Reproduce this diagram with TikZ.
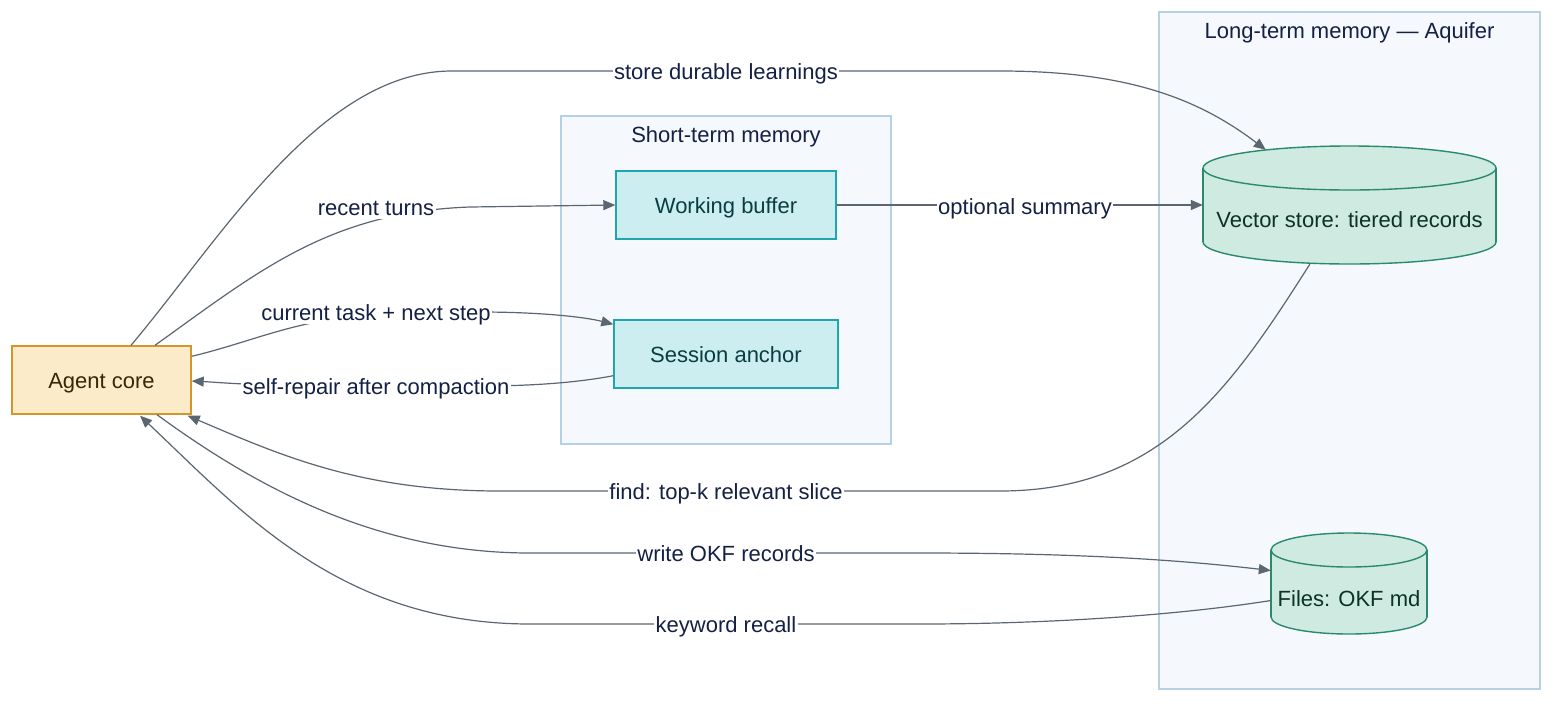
\documentclass[tikz,border=0pt]{standalone}
\usepackage{fontspec}
\setmainfont{Liberation Sans}
\usetikzlibrary{arrows.meta,calc}
\definecolor{edgecol}{HTML}{5B6670}
\definecolor{lbltext}{HTML}{142044}
\definecolor{clfill}{HTML}{F5F9FD}
\definecolor{cldraw}{HTML}{B6D0E6}
\definecolor{tealfill}{HTML}{CDEEF1}
\definecolor{tealdraw}{HTML}{1FA5AE}
\definecolor{tealtext}{HTML}{0A3D40}
\definecolor{agfill}{HTML}{FCEBC8}
\definecolor{agdraw}{HTML}{D4962A}
\definecolor{agtext}{HTML}{3A2600}
\definecolor{cyfill}{HTML}{CFEAE0}
\definecolor{cydraw}{HTML}{2A8A6A}
\definecolor{cytext}{HTML}{0B3325}
\tikzset{
  txt/.style={font=\fontsize{22}{26}\selectfont, text height=19pt, text depth=2pt},
  cluster/.style={draw=cldraw, fill=clfill, line width=1.2pt},
  cltitle/.style={txt, text=lbltext, inner sep=0pt},
  tealbox/.style={draw=tealdraw, fill=tealfill, line width=1.4pt, txt, text=tealtext, inner sep=0pt},
  agentbox/.style={draw=agdraw, fill=agfill, line width=1.4pt, txt, text=agtext, inner sep=0pt},
  cylarea/.style={inner sep=0pt},
  cylline/.style={draw=cydraw, fill=cyfill, line width=1.4pt},
  cyltext/.style={txt, text=cytext, inner sep=0pt},
  edge/.style={draw=edgecol, line width=1.2pt, -{Triangle[length=12pt,width=10pt]}},
  lbl/.style={txt, text=lbltext, fill=white, inner sep=1.5pt}
}
\begin{document}
\begin{tikzpicture}[x=1pt,y=-1pt]
\useasboundingbox[fill=white] (0,0) rectangle (1568,710);
% clusters
\path[cluster] (561,116) rectangle (891,444);
\node[cltitle] (stt) at (726,134) {Short-term memory};
\path[cluster] (1159,12) rectangle (1540,689);
\node[cltitle] (ltt) at (1349.5,30) {Long-term memory — Aquifer};
% nodes
\node[agentbox, minimum width=179pt, minimum height=68pt] (ac) at (101.5,380) {Agent core};
\node[tealbox, minimum width=220pt, minimum height=68pt] (wb) at (726,205) {Working buffer};
\node[tealbox, minimum width=224pt, minimum height=68pt] (sa) at (726,354) {Session anchor};
% vector store cylinder
\path[cylline] (1349.5,242) ellipse [x radius=146.5, y radius=22];
\fill[cyfill] (1203,168) rectangle (1496,242);
\draw[draw=cydraw, line width=1.4pt] (1203,168) -- (1203,242) (1496,168) -- (1496,242);
\path[cylline] (1349.5,168) ellipse [x radius=146.5, y radius=22];
\node[cylarea, minimum width=293pt, minimum height=118pt] (vs) at (1349.5,205) {};
\node[cyltext] (vst) at (1349.5,219) {Vector store: tiered records};
% files cylinder
\path[cylline] (1349,617) ellipse [x radius=78, y radius=17];
\fill[cyfill] (1271,550) rectangle (1427,617);
\draw[draw=cydraw, line width=1.4pt] (1271,550) -- (1271,617) (1427,550) -- (1427,617);
\path[cylline] (1349,550) ellipse [x radius=78, y radius=17];
\node[cylarea, minimum width=156pt, minimum height=101pt] (fm) at (1349,583.5) {};
\node[cyltext] (fmt) at (1349,598) {Files: OKF md};
% edges
\draw[edge] ($(ac.north)+(29.5,0)$) .. controls (220,240) and (320,71) .. (452,71) -- (1000,71) .. controls (1130,71) and (1200,100) .. ($(vs.north west)+(63,4)$);
\draw[edge] ($(ac.north)+(53.5,0)$) .. controls (260,270) and (330,212) .. (470,207) -- (wb.west);
\draw[edge] ($(ac.north east)+(0,11)$) .. controls (260,340) and (300,316) .. (400,313) -- (480,312) .. controls (540,312) and (585,317) .. ($(sa.north west)+(0,5)$);
\draw[edge] ($(sa.south west)+(0,-13)$) .. controls (570,384) and (520,386) .. (480,386) -- (270,385) .. controls (235,384) and (212,382) .. ($(ac.east)+(0,1)$);
\draw[edge] (wb.east) -- (vs.west);
\draw[edge] ($(vs.south west)+(107,0)$) .. controls (1230,390) and (1160,491) .. (1000,491) -- (500,491) .. controls (360,491) and (280,455) .. ($(ac.south east)+(-4,1)$);
\draw[edge] ($(ac.south)+(55.5,0)$) .. controls (260,490) and (380,553) .. (530,553) -- (920,553) .. controls (1080,553) and (1180,560) .. ($(fm.west)+(0,-13)$);
\draw[edge] ($(fm.west)+(0,17)$) .. controls (1180,615) and (1050,624) .. (920,624) -- (530,624) .. controls (340,624) and (240,510) .. ($(ac.south)+(38.5,1)$);
% labels
\node[lbl] (l1) at (726,71) {store durable learnings};
\node[lbl] (l2) at (376,207) {recent turns};
\node[lbl] (l3) at (376,312) {current task + next step};
\node[lbl] (l4) at (376,386) {self-repair after compaction};
\node[lbl] (l5) at (1025,206) {optional summary};
\node[lbl] (l6) at (726,491) {find: top-k relevant slice};
\node[lbl] (l7) at (726,553) {write OKF records};
\node[lbl] (l8) at (726,624) {keyword recall};
\end{tikzpicture}
\end{document}
